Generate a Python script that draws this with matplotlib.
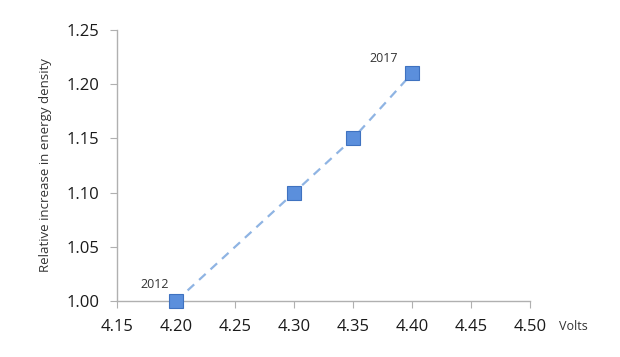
import matplotlib
matplotlib.use('Agg')
import matplotlib.pyplot as plt

volts = [4.20, 4.30, 4.35, 4.40]
density = [1.00, 1.10, 1.15, 1.21]
year_labels = ['2012', '', '', '2017']
xticks = [4.15, 4.20, 4.25, 4.30, 4.35, 4.40, 4.45, 4.50]
yticks = [1.00, 1.05, 1.10, 1.15, 1.20, 1.25]

plt.rcParams['font.family'] = ['Open Sans', 'DejaVu Sans']

fig = plt.figure(figsize=(6.2, 3.57), dpi=100)
ax = fig.add_axes([0.189, 0.157, 0.666, 0.759])

ax.plot(volts, density, linestyle=(0, (4, 3)), color='#8fb4e3', linewidth=1.6,
        marker='s', markersize=9.5, markerfacecolor='#5b8fdc',
        markeredgecolor='#3f72c0', markeredgewidth=0.8, zorder=3)

ax.annotate(year_labels[0], (volts[0], density[0]), xytext=(-26, 9),
            textcoords='offset points', fontsize=9, color='#333333')
ax.annotate(year_labels[3], (volts[3], density[3]), xytext=(-31, 8),
            textcoords='offset points', fontsize=9, color='#333333')

ax.set_xlim(4.15, 4.50)
ax.set_ylim(1.00, 1.25)
ax.set_xticks(xticks)
ax.set_yticks(yticks)
ax.set_xticklabels(['%.2f' % v for v in xticks])
ax.set_yticklabels(['%.2f' % v for v in yticks])

for side in ['top', 'right']:
    ax.spines[side].set_visible(False)
for side in ['left', 'bottom']:
    ax.spines[side].set_color('#b0b0b0')
    ax.spines[side].set_linewidth(1.0)
ax.tick_params(direction='out', length=5, color='#b0b0b0', labelsize=12,
               labelcolor='#1a1a1a')
ax.tick_params(axis='x', pad=8)
ax.tick_params(axis='y', pad=8)

ax.set_ylabel('Relative increase in energy density', fontsize=9.5, color='#333333',
              labelpad=10)
ax.text(1.07, -0.095, 'Volts', transform=ax.transAxes, fontsize=9, color='#333333',
        va='center', ha='left')

for line in ax.get_lines():
    line.set_clip_on(False)

fig.savefig('out.png', dpi=100, facecolor='white')
